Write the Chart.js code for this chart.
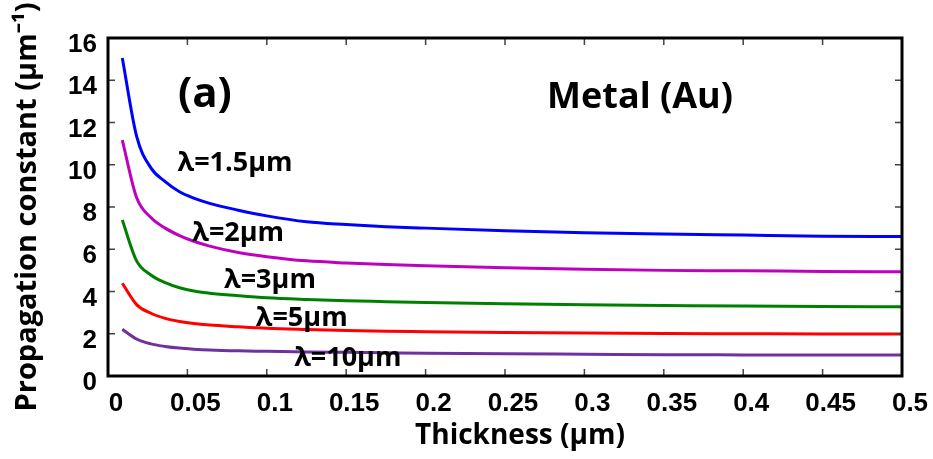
<!DOCTYPE html>
<html>
<head>
<meta charset="utf-8">
<script src="https://cdn.jsdelivr.net/npm/chart.js@4.4.1/dist/chart.umd.min.js"></script>
<style>
  html, body { margin: 0; padding: 0; background: #fff; }
  #wrap { width: 933px; height: 459px; }
</style>
</head>
<body>
<div id="wrap"><canvas id="propChart" width="933" height="459"></canvas></div>
<script>
// dikte in µm (x-as)
const thickness = [0.009, 0.018, 0.027, 0.036, 0.045, 0.054, 0.064, 0.082, 0.1, 0.125, 0.15, 0.175, 0.2, 0.25, 0.3, 0.35, 0.4, 0.45, 0.5];

// propagatieconstante per golflengte
const lambda15 = [15.05, 11.35, 9.85, 9.2, 8.72, 8.42, 8.17, 7.85, 7.58, 7.3, 7.17, 7.07, 7.0, 6.88, 6.78, 6.72, 6.67, 6.62, 6.6];
const lambda2 = [11.17, 8.45, 7.5, 7.0, 6.65, 6.38, 6.15, 5.85, 5.65, 5.45, 5.35, 5.28, 5.22, 5.12, 5.05, 5.0, 4.98, 4.95, 4.93];
const lambda3 = [7.38, 5.45, 4.78, 4.42, 4.18, 4.02, 3.92, 3.8, 3.7, 3.62, 3.56, 3.52, 3.48, 3.42, 3.37, 3.34, 3.31, 3.29, 3.28];
const lambda5 = [4.39, 3.38, 2.97, 2.73, 2.58, 2.48, 2.41, 2.33, 2.26, 2.2, 2.15, 2.12, 2.1, 2.06, 2.03, 2.01, 2.0, 1.99, 1.99];
const lambda10 = [2.21, 1.75, 1.52, 1.4, 1.32, 1.27, 1.23, 1.19, 1.17, 1.14, 1.12, 1.1, 1.08, 1.05, 1.03, 1.01, 1.0, 0.99, 0.99];

const seriesNames = ['λ=1.5μm', 'λ=2μm', 'λ=3μm', 'λ=5μm', 'λ=10μm'];
const xTicks = [0, 0.05, 0.1, 0.15, 0.2, 0.25, 0.3, 0.35, 0.4, 0.45, 0.5];
const yTicks = [0, 2, 4, 6, 8, 10, 12, 14, 16];

const colors = ['#0000ff', '#bf00bf', '#008000', '#ff0000', '#7030a0'];
const allSeries = [lambda15, lambda2, lambda3, lambda5, lambda10];

// tekstlabels in datacoördinaten
const labels = [
    { text: 'λ=1.5μm', x: 0.080, y: 10.08, size: 27 },
    { text: 'λ=2μm', x: 0.082, y: 6.77, size: 27 },
    { text: 'λ=3μm', x: 0.102, y: 4.54, size: 27 },
    { text: 'λ=5μm', x: 0.122, y: 2.75, size: 27 },
    { text: 'λ=10μm', x: 0.151, y: 0.85, size: 27 },
    { text: '(a)', x: 0.061, y: 13.3, size: 42 },
    { text: 'Metal (Au)', x: 0.335, y: 13.16, size: 36 }
];
const xTitle = 'Thickness (μm)';

const datasets = allSeries.map((vals, i) => ({
    label: seriesNames[i],
    data: thickness.map((t, j) => ({ x: t, y: vals[j] })),
    borderColor: colors[i],
    borderWidth: 3,
    pointRadius: 0,
    fill: false,
    cubicInterpolationMode: 'monotone'
}));

// kader + naar binnen gerichte tickjes + tekst
const framePlugin = {
    id: 'frame',
    afterDatasetsDraw(chart) {
        const { ctx, chartArea: a, scales } = chart;
        ctx.save();
        ctx.strokeStyle = '#444';
        ctx.lineWidth = 1.5;
        const len = 7;
        xTicks.forEach(v => {
            const px = scales.x.getPixelForValue(v);
            ctx.beginPath();
            ctx.moveTo(px, a.bottom); ctx.lineTo(px, a.bottom - len);
            ctx.moveTo(px, a.top); ctx.lineTo(px, a.top + len);
            ctx.stroke();
        });
        yTicks.forEach(v => {
            const py = scales.y.getPixelForValue(v);
            ctx.beginPath();
            ctx.moveTo(a.left, py); ctx.lineTo(a.left + len, py);
            ctx.moveTo(a.right, py); ctx.lineTo(a.right - len, py);
            ctx.stroke();
        });
        ctx.strokeStyle = '#000';
        ctx.lineWidth = 3;
        ctx.strokeRect(a.left, a.top, a.right - a.left, a.bottom - a.top);

        ctx.fillStyle = '#000';
        ctx.textAlign = 'center';
        ctx.textBaseline = 'middle';
        labels.forEach(l => {
            ctx.font = 'bold ' + l.size + 'px "Open Sans"';
            ctx.fillText(l.text, scales.x.getPixelForValue(l.x), scales.y.getPixelForValue(l.y));
        });

        // x-as titel, iets rechts van het midden zoals in het origineel
        ctx.font = 'bold 28px "Open Sans"';
        ctx.fillText(xTitle, (a.left + a.right) / 2 + 15, 436);
        ctx.restore();
    }
};

const ctx = document.getElementById('propChart').getContext('2d');
const propChart = new Chart(ctx, {
    type: 'line',
    data: { datasets: datasets },
    options: {
        responsive: false,
        animation: false,
        layout: { padding: { left: 0, top: 38, right: 31, bottom: 0 } },
        plugins: { legend: { display: false }, tooltip: { enabled: false } },
        scales: {
            x: {
                type: 'linear',
                min: 0,
                max: 0.5,
                afterFit: s => { s.height = 83; },
                afterBuildTicks: s => { s.ticks = xTicks.map(v => ({ value: v })); },
                grid: { display: false, drawTicks: false },
                border: { display: false },
                ticks: {
                    padding: 12,
                    labelOffset: 8,
                    maxRotation: 0,
                    color: '#000',
                    font: { family: '"Liberation Sans", Arial', weight: 'bold', size: 26 },
                    callback: v => String(+v.toFixed(2))
                },
                title: { display: false }
            },
            y: {
                min: 0,
                max: 16,
                afterFit: s => { s.width = 108; },
                afterBuildTicks: s => { s.ticks = yTicks.map(v => ({ value: v })); },
                grid: { display: false, drawTicks: false },
                border: { display: false },
                ticks: {
                    padding: 11,
                    labelOffset: 7,
                    color: '#000',
                    font: { family: '"Liberation Sans", Arial', weight: 'bold', size: 26 }
                },
                title: {
                    display: true,
                    text: 'Propagation constant (μm⁻¹)',
                    color: '#000',
                    font: { family: '"Open Sans"', weight: 'bold', size: 29 },
                    padding: { top: 10, bottom: 0 }
                }
            }
        }
    },
    plugins: [framePlugin]
});
</script>
</body>
</html>
